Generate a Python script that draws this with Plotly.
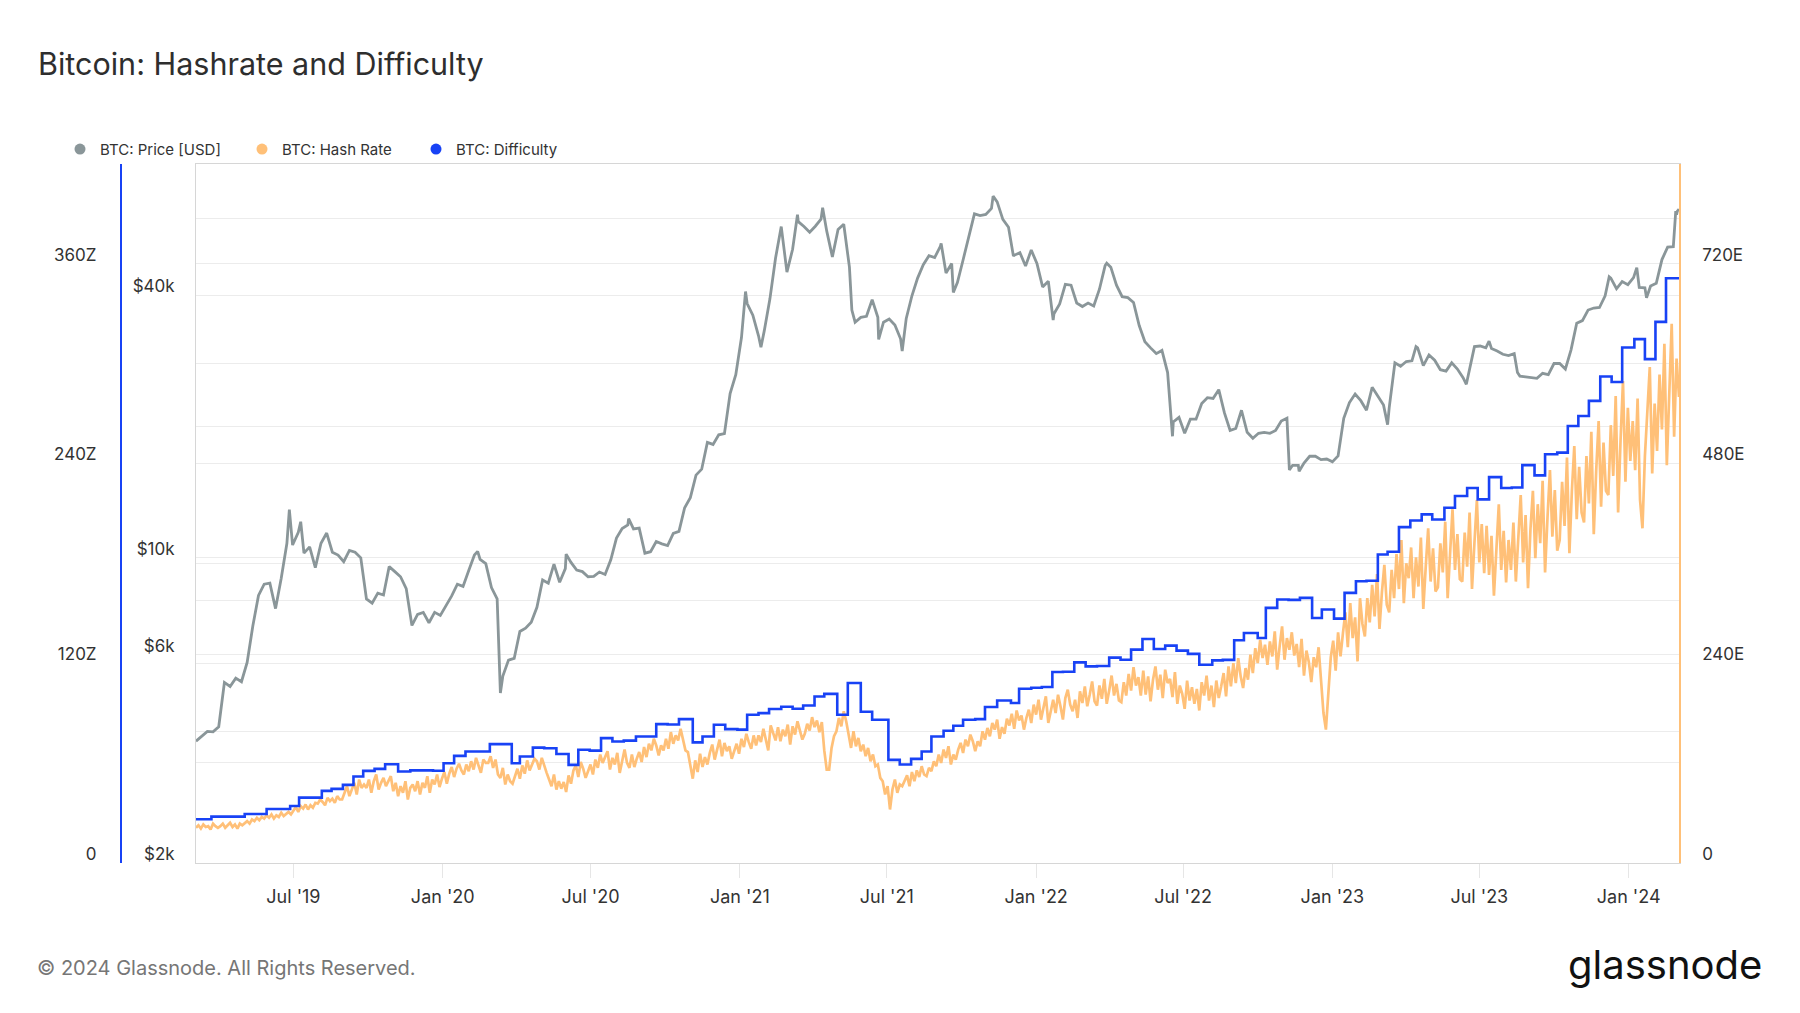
import math

import pandas as pd
import plotly.graph_objects as go

W, H = 1800, 1013

# BTC close price (USD), one value per week (Sundays) from 2019-03-03
price_weekly = [
    # 2019
    3800, 3900, 4000, 3990, 4100, 5180, 5070, 5300, 5200, 5760, 6980, 8200, 8700,
    8750, 7650, 8980, 10800, 10700, 11450, 10250, 10600, 9500, 10800, 11400, 10300, 10150,
    9800, 10400, 10300, 10000, 8050, 7870, 8300, 8220, 9550, 9300, 9050, 8500, 7000,
    7420, 7500, 7100, 7500, 7380,
    # 2020
    7750, 8180, 8700, 8600, 9350, 10150, 9920, 9700, 8550, 8050, 5360, 5830, 5880,
    6780, 6900, 7120, 7700, 8900, 8750, 9670, 8790, 9450, 9760, 9380, 9300, 9050,
    9070, 9280, 9160, 9900, 11100, 11680, 11900, 11650, 11700, 10250, 10330, 10900, 10770,
    10670, 11380, 11500, 13030, 13740, 15480, 15970, 18400, 18200, 19150, 19270, 23800, 26300,
    # 2021
    32000, 38300, 36000, 32300, 33100, 39200, 48700, 57500, 45200, 51000, 59000, 57500, 55800,
    57600, 59800, 56200, 49000, 56600, 58200, 46400, 34700, 35600, 35800, 39100, 35600, 34700,
    35300, 34200, 31800, 35400, 39900, 43800, 47000, 49300, 48800, 51800, 45000, 47300, 42800,
    48200, 54900, 61500, 60900, 61300, 63300, 65500, 59700, 57300, 49400, 50100, 46700, 50800,
    # 2022
    47300, 41800, 43100, 36300, 38200, 42400, 42200, 38400, 37700, 38400, 37800, 41300, 46800,
    46400, 42200, 39700, 39500, 38500, 34100, 31300, 30300, 29400, 29900, 26600, 20500, 21000,
    19300, 20800, 20800, 22600, 23300, 23200, 24300, 21500, 19600, 19800, 21800, 19400, 18800,
    19300, 19400, 19300, 19600, 20600, 20900, 16300, 16300, 16500, 17100, 17100, 16800, 16850,
    # 2023
    16600, 17130, 20900, 22700, 23750, 22930, 21800, 24600, 23500, 22400, 22100, 28000, 27500,
    28200, 28300, 30300, 27600, 29200, 28400, 27000, 26800, 28000, 27100, 25900, 26500, 30500,
    30600, 30300, 30200, 29800, 29300, 29100, 29400, 26100, 26000, 25900, 25800, 26500, 26300,
    27900, 27900, 27100, 30000, 34500, 35000, 37000, 37400, 37500, 39900, 43800, 41400, 43000, 42300,
    # 2024
    43900, 41700, 41600, 42000, 42600, 48300, 51600, 51700, 63000,
]

# extra daily closes where the chart shows sharp tops and bottoms
price_extra_dates = [
    "2019-06-26", "2019-07-10", "2020-02-13", "2020-03-12", "2020-06-01", "2020-08-17",
    "2021-01-08", "2021-01-27", "2021-03-13", "2021-04-13", "2021-05-19", "2021-06-21",
    "2021-07-20", "2021-09-06", "2021-09-21", "2021-11-09", "2021-12-04", "2022-01-22",
    "2022-03-29", "2022-06-18", "2022-11-09", "2022-11-21", "2023-03-10", "2023-04-14",
    "2023-06-15", "2023-07-13", "2023-08-17", "2023-12-08", "2024-01-11", "2024-01-23",
    "2024-02-27", "2024-02-28", "2024-02-29", "2024-03-01",
]
price_extra = [
    12900, 12100, 10350, 4900, 10200, 12300,
    40800, 30400, 61200, 63500, 37000, 31700,
    29800, 52600, 40600, 67500, 49200, 35100,
    47400, 19000, 15900, 15800, 20200, 30500,
    25000, 31400, 26600, 44100, 46300, 39500,
    57100, 62400, 61200, 62400,
]

# BTC hash rate (EH/s), one value every 3 days from 2019-03-03
hash_rate = [
    42, 45, 41, 46, 43, 44, 40, 47, 44, 42,
    44, 47, 42, 45, 48, 43, 46, 41, 47, 45,
    48, 50, 47, 52, 50, 54, 51, 55, 53, 57,
    54, 58, 53, 57, 55, 60, 56, 59, 61, 58,
    63, 67, 61, 68, 65, 70, 64, 69, 66, 72,
    71, 76, 73, 69, 78, 74, 77, 72, 80, 76,
    76, 84, 92, 80, 88, 96, 82, 100, 90, 94,
    90, 100, 84, 98, 106, 88, 96, 102, 92, 98,
    104, 86, 96, 80, 92, 84, 98, 76, 90, 94,
    86, 98, 82, 96, 90, 104, 84, 100, 94, 106,
    91, 101, 109, 95, 107, 115, 103, 113, 119, 111,
    106, 118, 110, 122, 112, 126, 116, 108, 124, 120,
    120, 128, 114, 124, 106, 102, 114, 94, 106, 98,
    95, 105, 113, 101, 117, 107, 123, 111, 119, 125,
    122, 112, 126, 116, 108, 100, 92, 106, 88, 98,
    89, 97, 85, 105, 95, 111, 117, 103, 121, 113,
    102, 110, 118, 106, 124, 114, 130, 120, 126, 134,
    112, 126, 118, 132, 108, 124, 136, 120, 114, 130,
    115, 125, 133, 121, 139, 127, 143, 135, 149, 141,
    129, 141, 135, 149, 137, 157, 143, 153, 147, 161,
    147, 135, 133, 117, 101, 123, 109, 131, 115, 127,
    118, 132, 142, 124, 138, 148, 128, 144, 134, 140,
    125, 135, 143, 131, 149, 139, 155, 145, 137, 153,
    141, 153, 145, 161, 149, 135, 165, 155, 147, 163,
    146, 160, 152, 166, 142, 164, 154, 170, 158, 148,
    155, 167, 159, 175, 163, 171, 157, 169, 135, 112,
    112, 138, 152, 158, 174, 164, 182, 170, 154, 138,
    158, 140, 150, 134, 142, 128, 138, 122, 130, 116,
    118, 102, 98, 82, 92, 64, 88, 100, 84, 94,
    92, 98, 105, 92, 109, 98, 111, 103, 116, 106,
    104, 114, 110, 122, 116, 130, 120, 136, 126, 140,
    118, 130, 124, 136, 144, 132, 148, 140, 154, 146,
    134, 146, 140, 158, 148, 162, 152, 168, 160, 172,
    149, 163, 155, 173, 165, 179, 161, 183, 171, 177,
    160, 174, 184, 168, 190, 178, 196, 172, 186, 200,
    168, 184, 196, 180, 202, 188, 172, 198, 208, 190,
    182, 196, 174, 206, 192, 212, 188, 202, 218, 194,
    189, 213, 197, 221, 191, 207, 225, 201, 215, 195,
    193, 217, 201, 227, 207, 235, 213, 223, 201, 231,
    202, 224, 194, 220, 236, 208, 226, 198, 232, 216,
    221, 199, 229, 191, 213, 203, 185, 219, 195, 211,
    191, 209, 183, 217, 201, 225, 195, 213, 187, 219,
    198, 212, 228, 200, 236, 212, 240, 216, 246, 224,
    210, 234, 220, 250, 228, 258, 240, 268, 246, 262,
    238, 266, 248, 278, 232, 260, 284, 244, 270, 256,
    277, 249, 263, 235, 269, 225, 255, 241, 217, 247,
    235, 259, 217, 180, 160, 205, 247, 267, 231, 277,
    248, 276, 301, 259, 312, 270, 295, 242, 318, 287,
    272, 318, 289, 334, 296, 347, 281, 325, 358, 310,
    301, 352, 318, 371, 329, 388, 312, 360, 342, 379,
    318, 367, 332, 391, 305, 356, 402, 338, 378, 326,
    331, 384, 349, 410, 318, 372, 425, 352, 395, 341,
    338, 397, 356, 421, 329, 385, 436, 361, 407, 348,
    405, 346, 393, 321, 378, 431, 352, 399, 337, 388,
    352, 409, 338, 396, 442, 361, 418, 330, 401, 447,
    366, 431, 384, 459, 349, 415, 472, 392, 448, 375,
    388, 458, 405, 487, 372, 446, 501, 413, 476, 421,
    409, 489, 432, 518, 395, 472, 531, 428, 505, 447,
    442, 526, 465, 561, 421, 508, 579, 458, 547, 483,
    531, 472, 558, 436, 402, 489, 540, 596, 468, 552,
    495, 587, 521, 624, 478, 569, 648, 512, 606, 560,
]

# difficulty in Z (difficulty * 2^32 / 1e21), value from each adjustment date
diff_dates = [
    "2019-03-03", "2019-03-22", "2019-05-02", "2019-05-29", "2019-06-27", "2019-07-08",
    "2019-08-05", "2019-08-17", "2019-08-31", "2019-09-13", "2019-09-25", "2019-10-09",
    "2019-10-22", "2019-11-07", "2019-11-22", "2019-12-20", "2020-01-02", "2020-01-15",
    "2020-01-29", "2020-02-28", "2020-03-26", "2020-04-05", "2020-04-21", "2020-05-05",
    "2020-05-20", "2020-06-04", "2020-06-16", "2020-06-30", "2020-07-14", "2020-07-28",
    "2020-08-11", "2020-08-26", "2020-09-20", "2020-10-04", "2020-10-18", "2020-11-04",
    "2020-11-16", "2020-11-30", "2020-12-14", "2020-12-29", "2021-01-10", "2021-01-24",
    "2021-02-06", "2021-02-21", "2021-03-07", "2021-03-20", "2021-04-03", "2021-04-15",
    "2021-05-01", "2021-05-14", "2021-05-30", "2021-06-13", "2021-07-03", "2021-07-17",
    "2021-07-31", "2021-08-13", "2021-08-25", "2021-09-09", "2021-09-21", "2021-10-03",
    "2021-10-18", "2021-10-30", "2021-11-14", "2021-12-01", "2021-12-11", "2021-12-26",
    "2022-01-08", "2022-01-21", "2022-02-03", "2022-02-17", "2022-03-03", "2022-03-17",
    "2022-04-01", "2022-04-15", "2022-04-28", "2022-05-12", "2022-05-26", "2022-06-09",
    "2022-06-23", "2022-07-07", "2022-07-21", "2022-08-06", "2022-08-19", "2022-09-02",
    "2022-09-14", "2022-10-01", "2022-10-11", "2022-10-25", "2022-11-08", "2022-11-22",
    "2022-12-07", "2022-12-19", "2023-01-03", "2023-01-16", "2023-01-30", "2023-02-12",
    "2023-02-26", "2023-03-10", "2023-03-24", "2023-04-07", "2023-04-21", "2023-05-04",
    "2023-05-19", "2023-06-01", "2023-06-16", "2023-06-29", "2023-07-13", "2023-07-28",
    "2023-08-10", "2023-08-23", "2023-09-07", "2023-09-20", "2023-10-05", "2023-10-18",
    "2023-10-31", "2023-11-13", "2023-11-27", "2023-12-11", "2023-12-24", "2024-01-08",
    "2024-01-21", "2024-02-03", "2024-02-16", "2024-03-03",
]
difficulty = [
    26.1, 27.7, 29.3, 32.3, 34.1, 39.1,
    43.2, 44.4, 46.8, 51.8, 55.2, 56.4,
    59.2, 54.8, 55.5, 55.3, 59.8, 64.2,
    66.8, 71.3, 59.8, 63.8, 69.2, 68.8,
    65.3, 58.8, 67.9, 67.4, 74.9, 72.9,
    73.4, 75.9, 83.3, 83.1, 86.3, 72.3,
    75.9, 82.9, 80.3, 80.0, 88.9, 89.9,
    92.4, 93.7, 92.5, 94.5, 99.9, 101.5,
    88.9, 108.0, 90.7, 85.9, 61.8, 59.0,
    62.4, 66.8, 75.9, 79.3, 82.3, 85.9,
    86.3, 93.6, 97.5, 96.0, 104.6, 105.2,
    105.6, 114.6, 114.8, 120.4, 118.0, 118.2,
    123.3, 122.0, 128.1, 134.5, 128.5, 130.5,
    127.5, 125.5, 119.0, 121.6, 121.9, 133.7,
    138.1, 135.1, 153.2, 158.2, 158.0, 159.2,
    147.1, 152.2, 146.7, 162.2, 169.2, 169.5,
    185.3, 186.9, 201.7, 205.7, 209.4, 206.3,
    213.4, 220.4, 225.2, 218.4, 231.8, 225.2,
    225.5, 239.0, 232.8, 245.5, 246.5, 262.5,
    268.5, 277.6, 292.3, 289.0, 309.7, 314.7,
    302.7, 325.1, 351.3, 351.3,
]

month_ticks = ["2019-07-01", "2020-01-01", "2020-07-01", "2021-01-01", "2021-07-01",
               "2022-01-01", "2022-07-01", "2023-01-01", "2023-07-01", "2024-01-01"]
month_labels = ["Jul '19", "Jan '20", "Jul '20", "Jan '21", "Jul '21",
                "Jan '22", "Jul '22", "Jan '23", "Jul '23", "Jan '24"]

price_ticks = [2000, 6000, 10000, 40000]
price_labels = ["$2k", "$6k", "$10k", "$40k"]
price_minor = [4000, 8000, 20000, 60000]

hash_ticks = [0, 240, 480, 720]
hash_labels = ["0", "240E", "480E", "720E"]
hash_minor = [120, 360, 600]

diff_ticks = [0, 120, 240, 360]
diff_labels = ["0", "120Z", "240Z", "360Z"]

GRAY = "#8a9699"
ORANGE = "#ffc078"
BLUE = "#1842f5"
GRID = "#ececec"


def fx(px):
    return px / W


def fy(py):
    return 1 - py / H


price = pd.concat([
    pd.Series(price_weekly, index=pd.date_range("2019-03-03", periods=len(price_weekly), freq="7D")),
    pd.Series(price_extra, index=pd.to_datetime(price_extra_dates)),
]).sort_index()
hash_dates = pd.date_range("2019-03-03", periods=len(hash_rate), freq="3D")

fig = go.Figure()
fig.add_trace(go.Scatter(x=price.index, y=price.values, mode="lines", yaxis="y",
                         line=dict(color=GRAY, width=2.8), showlegend=False))
fig.add_trace(go.Scatter(x=hash_dates, y=hash_rate, mode="lines", yaxis="y2",
                         line=dict(color=ORANGE, width=2.7), showlegend=False))
fig.add_trace(go.Scatter(x=pd.to_datetime(diff_dates), y=difficulty, mode="lines", yaxis="y3",
                         line=dict(color=BLUE, width=2.6, shape="hv"), showlegend=False))

# legend entries (round dots, one legend each so they sit where the original has them)
for name, color, leg in [("BTC: Price [USD]", GRAY, "legend"),
                         ("BTC: Hash Rate", ORANGE, "legend2"),
                         ("BTC: Difficulty", BLUE, "legend3")]:
    fig.add_trace(go.Scatter(x=[None], y=[None], mode="markers", name=name, legend=leg,
                             marker=dict(color=color, size=11)))

xdom = [fx(196), fx(1679)]
ydom = [fy(862.7), fy(164)]
legend_style = dict(orientation="h", yanchor="middle", y=fy(149.3), xanchor="left",
                    font=dict(size=15, color="#333"), bgcolor="rgba(0,0,0,0)")
ytick_style = dict(ticks="", zeroline=False, automargin=False,
                   tickfont=dict(size=17, color="#333"), ticklabelshift=-9)

fig.update_layout(
    width=W, height=H,
    margin=dict(l=0, r=0, t=0, b=0),
    paper_bgcolor="white", plot_bgcolor="white",
    font=dict(family="Inter, sans-serif", color="#333"),
    hovermode=False,
    title=dict(text="Bitcoin: Hashrate and Difficulty", x=fx(38), xanchor="left",
               y=fy(64), yanchor="middle", font=dict(size=30.5, color="#2e2e2e")),
    legend=dict(x=fx(60), **legend_style),
    legend2=dict(x=fx(242), **legend_style),
    legend3=dict(x=fx(416), **legend_style),
    xaxis=dict(domain=xdom, type="date", range=["2019-03-03", "2024-03-03"],
               tickvals=month_ticks, ticktext=month_labels,
               ticks="outside", ticklen=14, tickcolor="#e6e6e6",
               showgrid=False, zeroline=False, showline=True, mirror=True,
               linecolor="#d6d6d6", tickfont=dict(size=18, color="#333"),
               ticklabelstandoff=4, automargin=False),
    yaxis=dict(domain=ydom, type="log", range=[math.log10(2000), math.log10(80000)],
               tickvals=price_ticks, ticktext=price_labels,
               showgrid=True, gridcolor=GRID,
               minor=dict(tickvals=price_minor, showgrid=True, gridcolor=GRID, ticks=""),
               showline=True, linecolor="#d6d6d6", ticklabelstandoff=17, **ytick_style),
    yaxis2=dict(overlaying="y", side="right", anchor="x", range=[0, 840],
                tickvals=hash_ticks, ticktext=hash_labels, showgrid=False,
                minor=dict(tickvals=hash_minor, showgrid=True, gridcolor=GRID, ticks=""),
                showline=True, linecolor=ORANGE, linewidth=1.5,
                ticklabelstandoff=18, **ytick_style),
    yaxis3=dict(overlaying="y", side="left", anchor="free", position=fx(120.7), range=[0, 420],
                tickvals=diff_ticks, ticktext=diff_labels,
                showgrid=True, gridcolor=GRID,
                showline=True, linecolor=BLUE, linewidth=1.5,
                ticklabelstandoff=20, **ytick_style),
    annotations=[
        dict(text="© 2024 Glassnode. All Rights Reserved.", xref="paper", yref="paper",
             x=fx(35), y=fy(968), xanchor="left", yanchor="middle", showarrow=False,
             font=dict(size=20, color="#767676")),
        dict(text="glassnode", xref="paper", yref="paper",
             x=fx(1764), y=fy(964), xanchor="right", yanchor="middle", showarrow=False,
             font=dict(size=40, color="#111", weight=400)),
    ],
)

fig.write_html("out.html", config={"displayModeBar": False},
               post_script="document.body.style.margin='0';")
